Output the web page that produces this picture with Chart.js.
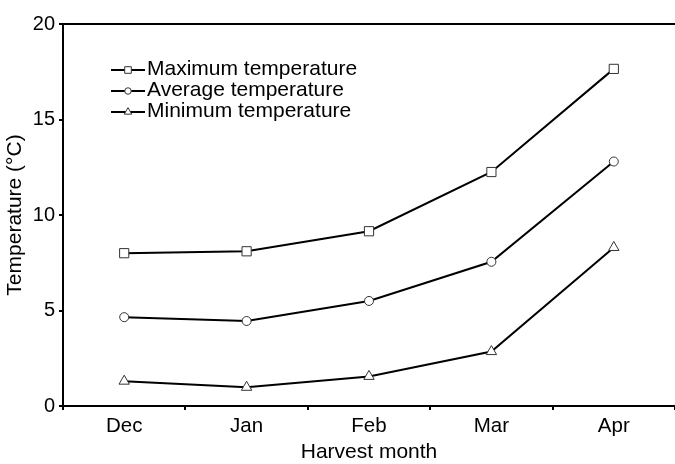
<!DOCTYPE html>
<html>
<head>
<meta charset="utf-8">
<title>Temperature by harvest month</title>
<script src="https://cdn.jsdelivr.net/npm/chart.js@4.4.1/dist/chart.umd.min.js"></script>
<style>
  html, body { margin: 0; padding: 0; background: #fff; overflow: hidden; }
  #wrap { width: 675px; height: 464px; }
</style>
</head>
<body>
<div id="wrap"><canvas id="chart" width="675" height="464"></canvas></div>
<script>
// Harvest months and monthly temperatures (°C)
const months = ['Dec', 'Jan', 'Feb', 'Mar', 'Apr'];
const maxTemp = [8.0, 8.1, 9.15, 12.25, 17.65];
const avgTemp = [4.65, 4.45, 5.5, 7.55, 12.8];
const minTemp = [1.3, 0.98, 1.55, 2.85, 8.3];
const seriesNames = ['Maximum temperature', 'Average temperature', 'Minimum temperature'];
const yTicks = [0, 5, 10, 15, 20];

const FONT = '"Liberation Sans", Arial, Helvetica, sans-serif';
const INK = '#000';

function series(label, data, style, radius) {
  return {
    label, data,
    borderColor: INK,
    borderWidth: 2,
    tension: 0,
    pointStyle: style,
    pointRadius: radius,
    pointHoverRadius: radius,
    pointBackgroundColor: '#fff',
    pointBorderColor: '#333',
    pointBorderWidth: 1,
    legendRadius: radius * 0.72
  };
}

// Frame line along the top of the plot area
const topFrame = {
  id: 'topFrame',
  afterDraw(chart) {
    const { ctx, chartArea } = chart;
    ctx.save();
    ctx.strokeStyle = INK;
    ctx.lineWidth = 2;
    ctx.beginPath();
    ctx.moveTo(chartArea.left - 1, chartArea.top);
    ctx.lineTo(chartArea.right, chartArea.top);
    ctx.stroke();
    ctx.restore();
  }
};

// Legend drawn inside the plot area, upper left
const insideLegend = {
  id: 'insideLegend',
  afterDraw(chart) {
    const { ctx, chartArea } = chart;
    const x0 = chartArea.left + 48, x1 = chartArea.left + 82, xm = (x0 + x1) / 2;
    ctx.save();
    chart.data.datasets.forEach((ds, i) => {
      const y = chartArea.top + 46 + 21 * i;
      ctx.strokeStyle = INK;
      ctx.lineWidth = 2;
      ctx.beginPath();
      ctx.moveTo(x0, y);
      ctx.lineTo(x1, y);
      ctx.stroke();
      ctx.fillStyle = '#fff';
      ctx.strokeStyle = '#333';
      ctx.lineWidth = 1;
      Chart.helpers.drawPoint(ctx, { pointStyle: ds.pointStyle, radius: ds.legendRadius, borderWidth: 1, rotation: 0 }, xm, y);
      ctx.fillStyle = INK;
      ctx.font = '21px ' + FONT;
      ctx.textBaseline = 'middle';
      ctx.textAlign = 'left';
      ctx.fillText(ds.label, x1 + 2, y - 1);
    });
    ctx.restore();
  }
};

new Chart(document.getElementById('chart'), {
  type: 'line',
  data: {
    labels: months,
    datasets: [
      series(seriesNames[0], maxTemp, 'rect', 6.5),
      series(seriesNames[1], avgTemp, 'circle', 4.5),
      series(seriesNames[2], minTemp, 'triangle', 6)
    ]
  },
  options: {
    responsive: false,
    animation: false,
    layout: { autoPadding: false, padding: { top: 24, right: -2, left: 0, bottom: 0 } },
    plugins: {
      legend: { display: false },
      tooltip: { enabled: false }
    },
    scales: {
      x: {
        type: 'category',
        offset: true,
        afterFit(scale) { scale.height = 58; },
        border: { display: true, color: INK, width: 2 },
        grid: { offset: true, drawOnChartArea: false, drawTicks: true, tickLength: 4, color: INK, lineWidth: 2 },
        ticks: { color: INK, font: { family: FONT, size: 20.5 }, padding: 4, maxRotation: 0 },
        title: { display: true, text: 'Harvest month', color: INK, font: { family: FONT, size: 21 }, padding: { top: 0, bottom: -1 } }
      },
      y: {
        min: 0,
        max: 20,
        afterFit(scale) { scale.width = 63; },
        afterBuildTicks(scale) { scale.ticks = yTicks.map(v => ({ value: v })); },
        border: { display: true, color: INK, width: 2 },
        grid: { drawOnChartArea: false, drawTicks: true, tickLength: 4, color: INK, lineWidth: 2 },
        ticks: { color: INK, font: { family: FONT, size: 20 }, padding: 4 },
        title: { display: true, text: 'Temperature (°C)', color: INK, font: { family: FONT, size: 21 }, padding: { top: 3, bottom: 0 } }
      }
    }
  },
  plugins: [topFrame, insideLegend]
});
</script>
</body>
</html>
